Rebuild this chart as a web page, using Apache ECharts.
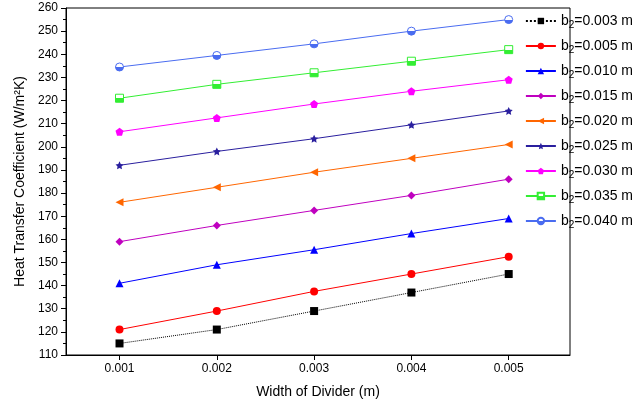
<!DOCTYPE html>
<html lang="en">
<head>
<meta charset="UTF-8">
<script src="https://cdn.jsdelivr.net/npm/echarts@6/dist/echarts.min.js"></script>
</head>
<body style="margin:0">
<div id="main" style="width:640px;height:412px"></div>
<script>
var widths = [0.001, 0.002, 0.003, 0.004, 0.005];
var names = ['0.003', '0.005', '0.010', '0.015', '0.020', '0.025', '0.030', '0.035', '0.040'];
var b003 = [115, 121, 129, 137, 145];
var b005 = [121, 129, 137.5, 145, 152.5];
var b010 = [141, 149, 155.5, 162.5, 169];
var b015 = [159, 166, 172.5, 179, 186];
var b020 = [176, 182.5, 189, 195, 201];
var b025 = [192, 198, 203.5, 209.5, 215.5];
var b030 = [206.5, 212.5, 218.5, 224, 229];
var b035 = [221, 227, 232, 237, 242];
var b040 = [234.5, 239.5, 244.5, 250, 255];
var allData = [b003, b005, b010, b015, b020, b025, b030, b035, b040];
var colors = ['#000000', '#ff0000', '#0000ff', '#bf00bf', '#ff6600', '#2a1f9e', '#ff00ff', '#33ee33', '#4a6cf0'];
var symbols = ['rect', 'circle', 'triangle', 'diamond', 'triangle', 'path://M0,-10L2.9,-4L9.5,-3L4.7,1.5L5.9,8L0,5L-5.9,8L-4.7,1.5L-9.5,-3L-2.9,-4Z',
  'path://M0,-10L9.5,-3.1L5.9,8.1L-5.9,8.1L-9.5,-3.1Z', 'rect', 'circle'];
var rotations = [0, 0, 0, 0, 90, 0, 0, 0, 0];

var series = allData.map(function (d, i) {
  var half = i >= 7;
  return {
    name: names[i],
    type: 'line',
    data: d.map(function (v, j) { return [widths[j], v]; }),
    symbol: symbols[i],
    symbolRotate: rotations[i],
    symbolSize: 8,
    itemStyle: {
      color: half ? new echarts.graphic.LinearGradient(0, 0, 0, 1, [
        { offset: 0, color: '#fff' }, { offset: 0.5, color: '#fff' },
        { offset: 0.5, color: colors[i] }, { offset: 1, color: colors[i] }]) : colors[i],
      borderColor: colors[i], borderWidth: half ? 1 : 0
    },
    lineStyle: { width: 1, color: colors[i], type: i === 0 ? 'dotted' : 'solid' }
  };
});

var chart = echarts.init(document.getElementById('main'));
chart.setOption({
  animation: false,
  grid: { left: 66, right: 70, top: 8, bottom: 57 },
  legend: {
    orient: 'vertical', right: 2, top: 9, itemGap: 9, itemWidth: 30, itemHeight: 8,
    formatter: function (n) { return 'b{s|2}=' + n + ' m'; },
    textStyle: { fontFamily: 'Liberation Sans', fontSize: 14, color: '#000', rich: { s: { fontSize: 10, verticalAlign: 'bottom', padding: [8, 0, 0, 0] } } },
    data: names
  },
  xAxis: {
    type: 'value', min: 0.00045, max: 0.00563,
    name: 'Width of Divider (m)', nameLocation: 'middle', nameGap: 30,
    nameTextStyle: { fontFamily: 'Liberation Sans', fontSize: 14, color: '#000' },
    axisLine: { lineStyle: { color: '#000' } },
    axisTick: { customValues: widths, lineStyle: { color: '#000' } },
    axisLabel: { customValues: widths, fontFamily: 'Liberation Sans', fontSize: 12, color: '#000',
      formatter: function (v) { return v.toFixed(3); } },
    splitLine: { show: false }
  },
  yAxis: {
    type: 'value', min: 110, max: 260, interval: 10,
    name: 'Heat Transfer Coefficient (W/m²K)', nameLocation: 'middle', nameGap: 38,
    nameTextStyle: { fontFamily: 'Liberation Sans', fontSize: 14, color: '#000' },
    axisLine: { show: true, lineStyle: { color: '#000' } },
    axisTick: { show: true, lineStyle: { color: '#000' } },
    minorTick: { show: true, splitNumber: 2, lineStyle: { color: '#000' } },
    axisLabel: { fontFamily: 'Liberation Sans', fontSize: 12, color: '#000' },
    splitLine: { show: false }
  },
  graphic: [{ type: 'rect', shape: { x: 66, y: 8, width: 504, height: 347 }, style: { fill: 'none', stroke: '#000', lineWidth: 1 }, silent: true }],
  series: series
});
</script>
</body>
</html>
